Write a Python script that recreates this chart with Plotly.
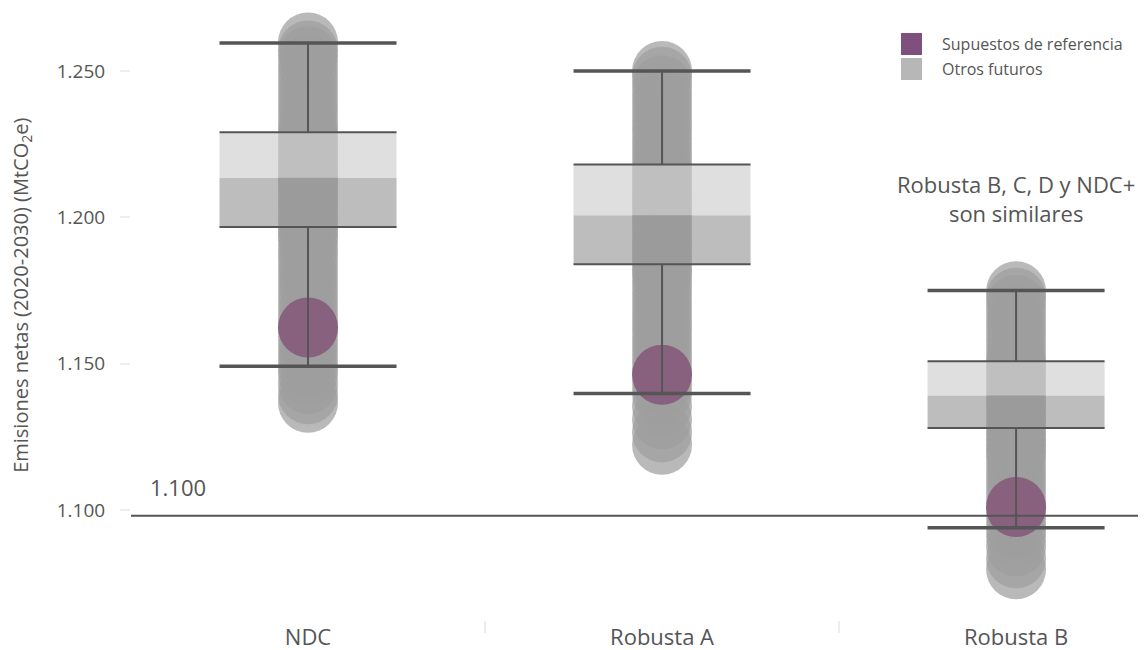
import plotly.graph_objects as go

# ---------------- data ----------------
categories = ["NDC", "Robusta A", "Robusta B"]

# individual futures (circles)
ndc_points = [1136.6, 1139.5, 1143.0, 1146.5, 1149.1, 1152, 1155, 1158, 1161, 1165, 1168, 1171,
              1174, 1177, 1180, 1183, 1186, 1189, 1192, 1194, 1196, 1198, 1200, 1202, 1204,
              1206, 1208, 1210, 1212, 1213.5, 1215, 1217, 1219, 1221, 1223, 1225, 1227, 1229,
              1231, 1234, 1237, 1240, 1243, 1246, 1249, 1252, 1255, 1257, 1259.7]
robA_points = [1122.3, 1126.5, 1131.0, 1135.5, 1139.8, 1143, 1147, 1150, 1153, 1156, 1159, 1162,
               1165, 1168, 1171, 1174, 1177, 1180, 1182, 1184, 1186, 1188, 1190, 1192, 1194,
               1196, 1198, 1200, 1202, 1204, 1206, 1208, 1210, 1212, 1214, 1216, 1218, 1221,
               1224, 1227, 1230, 1233, 1236, 1239, 1242, 1245, 1248, 1250]
robB_points = [1079.7, 1083.5, 1087.5, 1091.0, 1093.9, 1097, 1100, 1103, 1106, 1109, 1112, 1115,
               1118, 1120, 1122, 1124, 1126, 1128, 1130, 1132, 1134, 1136, 1138, 1140, 1142,
               1144, 1146, 1148, 1150, 1152, 1155, 1158, 1161, 1164, 1167, 1170, 1172.5, 1174.7]
points = [ndc_points, robA_points, robB_points]

# reference assumption (purple)
reference = [1162.3, 1146.2, 1101.0]

# box statistics
q1 = [1196.7, 1183.9, 1128.0]
median = [1213.5, 1200.7, 1139.1]
q3 = [1229.0, 1218.0, 1150.8]
whisker_low = [1149.1, 1139.8, 1093.9]
whisker_high = [1259.5, 1250.0, 1175.0]

ref_line_value = 1098
ref_line_label = "1.100"

y_tickvals = [1100, 1150, 1200, 1250]

note_text = "Robusta B, C, D y NDC+<br>son similares"
legend_labels = ["Supuestos de referencia", "Otros futuros"]
y_title = "Emisiones netas (2020-2030) (MtCO<sub>2</sub>e)"

# ---------------- style ----------------
FONT = "Open Sans"
TXT = "#555555"
GREY_PT = "rgb(158,158,158)"
PURPLE = "#88617f"
LEG_PURPLE = "#7f4f7d"
LEG_GREY = "#b7b7b7"
LINE = "#555555"
HALF = 0.25  # half box width in category units

fig = go.Figure()

for i, pts in enumerate(points):
    fig.add_trace(go.Scatter(
        x=[i] * len(pts), y=pts, mode="markers",
        marker=dict(size=60, color=GREY_PT, opacity=0.72, line=dict(width=0)),
        showlegend=False, hoverinfo="y"))

for i in range(len(categories)):
    fig.add_trace(go.Scatter(
        x=[i], y=[reference[i]], mode="markers",
        marker=dict(size=60, color=PURPLE, opacity=1, line=dict(width=0)),
        showlegend=False, hoverinfo="y"))

for i in range(len(categories)):
    xl, xr = i - HALF, i + HALF
    # lower half (Q1 - median), darker
    fig.add_trace(go.Scatter(
        x=[xl, xr, xr, xl, xl], y=[q1[i], q1[i], median[i], median[i], q1[i]],
        mode="lines", fill="toself", fillcolor="rgba(154,154,154,0.65)",
        line=dict(width=0), showlegend=False, hoverinfo="skip"))
    # upper half (median - Q3), lighter
    fig.add_trace(go.Scatter(
        x=[xl, xr, xr, xl, xl], y=[median[i], median[i], q3[i], q3[i], median[i]],
        mode="lines", fill="toself", fillcolor="rgba(208,208,208,0.67)",
        line=dict(width=0), showlegend=False, hoverinfo="skip"))
    # box borders at Q1 and Q3
    for v in (q1[i], q3[i]):
        fig.add_trace(go.Scatter(x=[xl, xr], y=[v, v], mode="lines",
                                 line=dict(color=LINE, width=2), showlegend=False, hoverinfo="skip"))
    # whiskers
    fig.add_trace(go.Scatter(x=[i, i], y=[q3[i], whisker_high[i]], mode="lines",
                             line=dict(color=LINE, width=2), showlegend=False, hoverinfo="skip"))
    fig.add_trace(go.Scatter(x=[i, i], y=[whisker_low[i], q1[i]], mode="lines",
                             line=dict(color=LINE, width=2), showlegend=False, hoverinfo="skip"))
    for v in (whisker_low[i], whisker_high[i]):
        fig.add_trace(go.Scatter(x=[xl, xr], y=[v, v], mode="lines",
                                 line=dict(color=LINE, width=3.5), showlegend=False, hoverinfo="skip"))

# reference horizontal line
fig.add_shape(type="line", xref="paper", x0=0, x1=1, yref="y", y0=ref_line_value, y1=ref_line_value,
              line=dict(color=LINE, width=2), layer="above")
fig.add_annotation(x=-0.5, xref="x", xanchor="left", xshift=17, y=ref_line_value, yref="y",
                   yanchor="bottom", yshift=12, text=ref_line_label, showarrow=False,
                   font=dict(family=FONT, size=22, color=TXT))

# note
fig.add_annotation(x=2, xref="x", y=1206.3, yref="y", yanchor="middle",
                   text=note_text, showarrow=False, align="center",
                   font=dict(family=FONT, size=22, color=TXT))

# y-axis title (as rotated annotation)
fig.add_annotation(xref="paper", yref="paper", x=-0.1074, y=0.533, xanchor="center", yanchor="middle",
                   text=y_title, textangle=-90, showarrow=False,
                   font=dict(family=FONT, size=20, color=TXT))

# manual legend
leg_colors = [LEG_PURPLE, LEG_GREY]
leg_y = [(0.9623, 0.9262), (0.9213, 0.8852)]
for lab, col, (ytop, ybot) in zip(legend_labels, leg_colors, leg_y):
    fig.add_shape(type="rect", xref="paper", yref="paper", x0=0.7586, x1=0.7793, y0=ybot, y1=ytop,
                  fillcolor=col, line=dict(width=0))
    fig.add_annotation(xref="paper", yref="paper", x=0.797, xanchor="left", y=(ytop + ybot) / 2,
                       yanchor="middle", text=lab, showarrow=False,
                       font=dict(family=FONT, size=16, color=TXT))

# page body has an 8px margin: size the figure so it fills the 1146x650 window
fig.update_layout(
    width=1138, height=642,
    margin=dict(l=123, r=0, t=2, b=30),
    paper_bgcolor="white", plot_bgcolor="white",
    separators=",.",
    font=dict(family=FONT, color=TXT),
    showlegend=False,
    xaxis=dict(range=[-0.5, 2.367], tickvals=list(range(len(categories))), ticktext=categories,
               showgrid=False, zeroline=False, showline=False, ticks="",
               ticklabelstandoff=2,
               tickfont=dict(family=FONT, size=22, color=TXT),
               minor=dict(tickvals=[0.5, 1.5], ticks="outside", ticklen=12, tickcolor="#eeeeee",
                          tickwidth=2, showgrid=False)),
    yaxis=dict(range=[1062.4, 1270.8], tickvals=y_tickvals, tickformat=",.0f",
               showgrid=False, zeroline=False, showline=False,
               ticks="outside", ticklen=10, tickcolor="#eeeeee", tickwidth=2,
               ticklabelstandoff=11,
               tickfont=dict(family=FONT, size=19, color=TXT)),
)

fig.write_html("out.html")
